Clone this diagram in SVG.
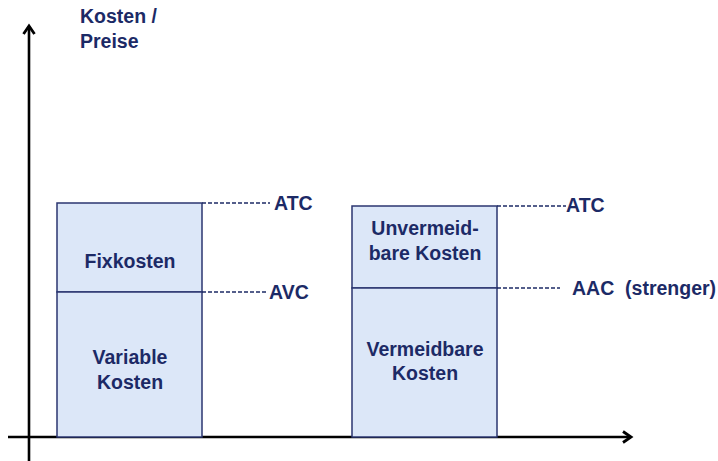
<svg xmlns="http://www.w3.org/2000/svg" width="718" height="461" viewBox="0 0 718 461">
<style>
text{font-family:"Liberation Sans",Arial,sans-serif;font-weight:bold;font-size:19.5px;fill:#1c2a66}
.box{fill:#dce7f8;stroke:#2b3670;stroke-width:1.5}
.dash{stroke:#1c2a66;stroke-width:1.3;stroke-dasharray:4,2;fill:none}
.axis{stroke:#000;stroke-width:2.6;fill:none}
.c{text-anchor:middle}
</style>
<defs>
<marker id="ah" viewBox="0 0 14 14" refX="11" refY="7" markerWidth="14" markerHeight="14" orient="auto" markerUnits="userSpaceOnUse">
<path d="M3,1.5 L11,7 L3,12.5" fill="none" stroke="#000" stroke-width="2.8" stroke-linejoin="miter"/>
</marker>
</defs>
<g id="axes">
<line class="axis" x1="29" y1="461" x2="29" y2="26" marker-end="url(#ah)"/>
<line class="axis" x1="8" y1="437" x2="631" y2="437" marker-end="url(#ah)"/>
<text x="80" y="23">Kosten /</text>
<text x="80" y="48">Preise</text>
</g>
<g id="left-bar">
<rect class="box" x="57" y="203" width="145" height="89"/>
<rect class="box" x="57" y="292" width="145" height="145"/>
<text class="c" x="130" y="268">Fixkosten</text>
<text class="c" x="130" y="364">Variable</text>
<text class="c" x="130" y="389">Kosten</text>
</g>
<g id="right-bar">
<rect class="box" x="352" y="206" width="145" height="82"/>
<rect class="box" x="352" y="288" width="145" height="149"/>
<text class="c" x="425" y="235">Unvermeid-</text>
<text class="c" x="425" y="260">bare Kosten</text>
<text class="c" x="425" y="356">Vermeidbare</text>
<text class="c" x="425" y="380">Kosten</text>
</g>
<g id="connectors">
<line class="dash" x1="202" y1="203" x2="270" y2="203"/>
<line class="dash" x1="202" y1="292" x2="266" y2="292"/>
<line class="dash" x1="497" y1="206" x2="566" y2="206"/>
<line class="dash" x1="497" y1="288" x2="560" y2="288"/>
</g>
<g id="labels">
<text x="274" y="210">ATC</text>
<text x="269" y="299">AVC</text>
<text x="566" y="212">ATC</text>
<text x="572" y="295" xml:space="preserve">AAC  (strenger)</text>
</g>
</svg>
